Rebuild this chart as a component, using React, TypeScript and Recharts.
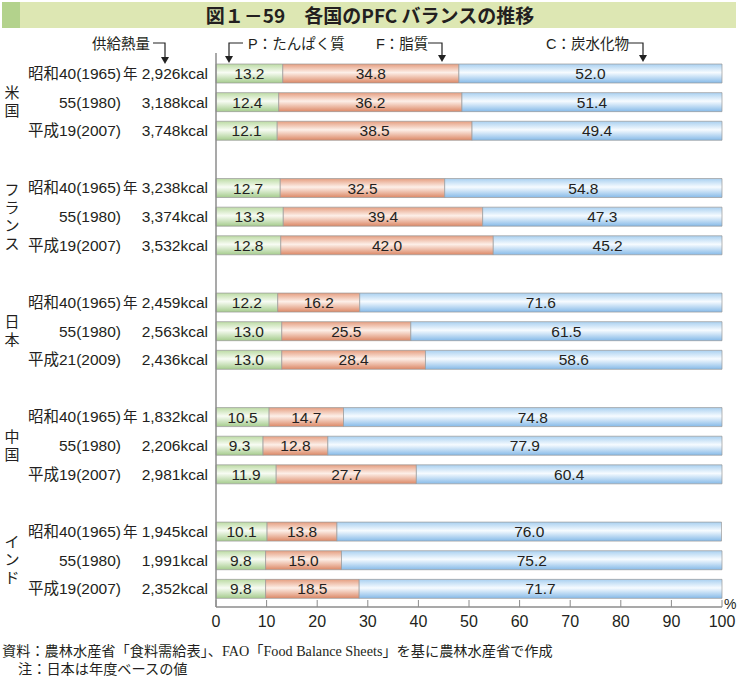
import React from "react";
import { BarChart, Bar, XAxis, YAxis, LabelList } from "recharts";

// 各国の PFC バランス（%）
const countries = ["米国", "フランス", "日本", "中国", "インド"];
const yearLabels = [
  ["昭和40(1965)年", "55(1980)", "平成19(2007)"],
  ["昭和40(1965)年", "55(1980)", "平成19(2007)"],
  ["昭和40(1965)年", "55(1980)", "平成21(2009)"],
  ["昭和40(1965)年", "55(1980)", "平成19(2007)"],
  ["昭和40(1965)年", "55(1980)", "平成19(2007)"],
];
const kcal = [
  ["2,926", "3,188", "3,748"],
  ["3,238", "3,374", "3,532"],
  ["2,459", "2,563", "2,436"],
  ["1,832", "2,206", "2,981"],
  ["1,945", "1,991", "2,352"],
];
const protein = [
  [13.2, 12.4, 12.1],
  [12.7, 13.3, 12.8],
  [12.2, 13.0, 13.0],
  [10.5, 9.3, 11.9],
  [10.1, 9.8, 9.8],
];
const fat = [
  [34.8, 36.2, 38.5],
  [32.5, 39.4, 42.0],
  [16.2, 25.5, 28.4],
  [14.7, 12.8, 27.7],
  [13.8, 15.0, 18.5],
];
const carb = [
  [52.0, 51.4, 49.4],
  [54.8, 47.3, 45.2],
  [71.6, 61.5, 58.6],
  [74.8, 77.9, 60.4],
  [76.0, 75.2, 71.7],
];
const xTicks = [0, 10, 20, 30, 40, 50, 60, 70, 80, 90, 100];

type Row = {
  key: string;
  country?: string;
  year?: string;
  kcal?: string;
  p?: number;
  f?: number;
  c?: number;
  mid?: boolean;
};

// 15 本の棒 + グループ間の空行
const rows: Row[] = [];
countries.forEach((name, i) => {
  for (let j = 0; j < 3; j++) {
    rows.push({
      key: `${i}-${j}`,
      country: name,
      year: yearLabels[i][j],
      kcal: kcal[i][j],
      p: protein[i][j],
      f: fat[i][j],
      c: carb[i][j],
      mid: j === 1,
    });
  }
  if (i < countries.length - 1) rows.push({ key: `gap-${i}` });
});

const SANS = '"Liberation Sans", "Noto Sans CJK JP", sans-serif';
const TEXT = "#231f20";
const AXIS = "#8c8c8c";
const FS = 15.5;

const fmt = (v: any) => (v == null ? "" : Number(v).toFixed(1));

const YTick = (props: any) => {
  const { x, y, payload } = props;
  const row = rows.find((r) => r.key === payload.value);
  if (!row || !row.year) return <g />;
  const hasNen = row.year.endsWith("年");
  const yearText = hasNen ? row.year.slice(0, -1) : row.year;
  const chars = row.mid ? Array.from(row.country || "") : [];
  const step = 18;
  const top = y - ((chars.length - 1) * step) / 2;
  return (
    <g fontFamily={SANS} fontSize={FS} fill={TEXT}>
      <text x={x - 95} y={y} dy="0.36em" textAnchor="end">
        {yearText}
      </text>
      {hasNen && (
        <text x={x - 93} y={y} dy="0.36em" textAnchor="start" fontSize={14.5}>
          年
        </text>
      )}
      <text x={x - 8} y={y} dy="0.36em" textAnchor="end">
        {row.kcal}kcal
      </text>
      {chars.map((ch, k) => (
        <text key={k} x={12} y={top + k * step} dy="0.36em" textAnchor="middle" fontSize={15}>
          {ch}
        </text>
      ))}
    </g>
  );
};

const XTick = (props: any) => {
  const { x, y, payload } = props;
  return (
    <g>
      <line x1={x} x2={x} y1={y - 7} y2={y} stroke={AXIS} strokeWidth={1} />
      <text
        x={x}
        y={y + 14}
        dy="0.36em"
        textAnchor="middle"
        fontFamily={SANS}
        fontSize={16}
        fill={TEXT}
      >
        {payload.value}
      </text>
    </g>
  );
};

const Arrow = ({ x0, x1, y0, y1 }: { x0: number; x1: number; y0: number; y1: number }) => (
  <g>
    <path d={`M${x0} ${y0} H${x1} V${y1 - 6}`} fill="none" stroke="#222" strokeWidth={1.2} />
    <path d={`M${x1 - 4} ${y1 - 7} L${x1 + 4} ${y1 - 7} L${x1} ${y1} Z`} fill="#222" />
  </g>
);

const App: React.FC = () => {
  return (
    <div
      style={{
        position: "absolute",
        left: 0,
        top: 0,
        width: 738,
        height: 686,
        background: "#fff",
        fontFamily: SANS,
        color: TEXT,
      }}
    >
      {/* タイトル */}
      <div
        style={{
          position: "absolute",
          left: 2,
          top: 2,
          width: 734,
          height: 26,
          background: "#dde7b3",
        }}
      >
        <div
          style={{
            position: "absolute",
            left: 0,
            top: 0,
            width: 18,
            height: 26,
            background: "#b3d28c",
          }}
        />
        <div
          style={{
            position: "absolute",
            left: 0,
            right: 0,
            top: 0,
            lineHeight: "26px",
            textAlign: "center",
            fontFamily: '"Noto Sans CJK JP", sans-serif',
            fontWeight: 700,
            fontSize: 19,
            paddingLeft: 2,
          }}
        >
          図１－59　各国のPFC バランスの推移
        </div>
      </div>

      <div style={{ position: "absolute", left: 0, top: 0 }}>
        <BarChart
          width={738}
          height={686}
          data={rows}
          layout="vertical"
          margin={{ top: 53, right: 16, bottom: 48, left: 16 }}
        >
          <defs>
            <linearGradient id="gP" x1="0" y1="0" x2="0" y2="1">
              <stop offset="0" stopColor="#bcdba4" />
              <stop offset="0.45" stopColor="#f8fcf4" />
              <stop offset="1" stopColor="#a5cc8d" />
            </linearGradient>
            <linearGradient id="gF" x1="0" y1="0" x2="0" y2="1">
              <stop offset="0" stopColor="#e59e80" />
              <stop offset="0.45" stopColor="#fdefe8" />
              <stop offset="1" stopColor="#dc8866" />
            </linearGradient>
            <linearGradient id="gC" x1="0" y1="0" x2="0" y2="1">
              <stop offset="0" stopColor="#a9d0f0" />
              <stop offset="0.45" stopColor="#f6fbff" />
              <stop offset="1" stopColor="#86bae8" />
            </linearGradient>
          </defs>
          <XAxis
            type="number"
            domain={[0, 100]}
            ticks={xTicks}
            interval={0}
            height={31}
            tickLine={false}
            tickSize={0}
            tickMargin={0}
            axisLine={{ stroke: AXIS, strokeWidth: 1.5 }}
            tick={XTick}
          />
          <YAxis
            type="category"
            dataKey="key"
            width={200}
            interval={0}
            padding={{ top: 6, bottom: 4 }}
            tickLine={false}
            tickSize={0}
            tickMargin={0}
            axisLine={{ stroke: AXIS, strokeWidth: 1.5 }}
            tick={YTick}
          />
          <Bar dataKey="p" stackId="pfc" barSize={19} fill="url(#gP)" stroke="#9a9a9a" strokeWidth={0.7} isAnimationActive={false}>
            <LabelList dataKey="p" position="center" formatter={fmt} fill={TEXT} fontSize={FS} fontFamily={SANS} />
          </Bar>
          <Bar dataKey="f" stackId="pfc" barSize={19} fill="url(#gF)" stroke="#9a9a9a" strokeWidth={0.7} isAnimationActive={false}>
            <LabelList dataKey="f" position="center" formatter={fmt} fill={TEXT} fontSize={FS} fontFamily={SANS} />
          </Bar>
          <Bar dataKey="c" stackId="pfc" barSize={19} fill="url(#gC)" stroke="#9a9a9a" strokeWidth={0.7} isAnimationActive={false}>
            <LabelList dataKey="c" position="center" formatter={fmt} fill={TEXT} fontSize={FS} fontFamily={SANS} />
          </Bar>
        </BarChart>
      </div>

      {/* 凡例の矢印と % */}
      <svg
        width={738}
        height={686}
        style={{ position: "absolute", left: 0, top: 0, pointerEvents: "none" }}
      >
        <g fontFamily={SANS} fontSize={14.5} fill={TEXT}>
          <text x={150} y={44} dy="0.36em" textAnchor="end">供給熱量</text>
          <text x={248} y={44} dy="0.36em">P：たんぱく質</text>
          <text x={376} y={44} dy="0.36em">F：脂質</text>
          <text x={546} y={44} dy="0.36em">C：炭水化物</text>
          <text x={724} y={604} dy="0.36em" fontSize={14}>%</text>
        </g>
        <Arrow x0={153} x1={165} y0={43} y1={64} />
        <Arrow x0={243} x1={229} y0={43} y1={63} />
        <Arrow x0={428} x1={442} y0={43} y1={62} />
        <Arrow x0={628} x1={643} y0={43} y1={62} />
      </svg>

      {/* 資料・注 */}
      <div
        style={{
          position: "absolute",
          left: 2,
          top: 642,
          fontFamily: '"Liberation Serif", "Noto Sans CJK JP", serif',
          fontSize: 14.2,
          lineHeight: "18px",
          whiteSpace: "nowrap",
        }}
      >
        <div>資料：農林水産省「食料需給表」、FAO「Food Balance Sheets」を基に農林水産省で作成</div>
        <div style={{ paddingLeft: 16 }}>注：日本は年度ベースの値</div>
      </div>
    </div>
  );
};

export default App;
